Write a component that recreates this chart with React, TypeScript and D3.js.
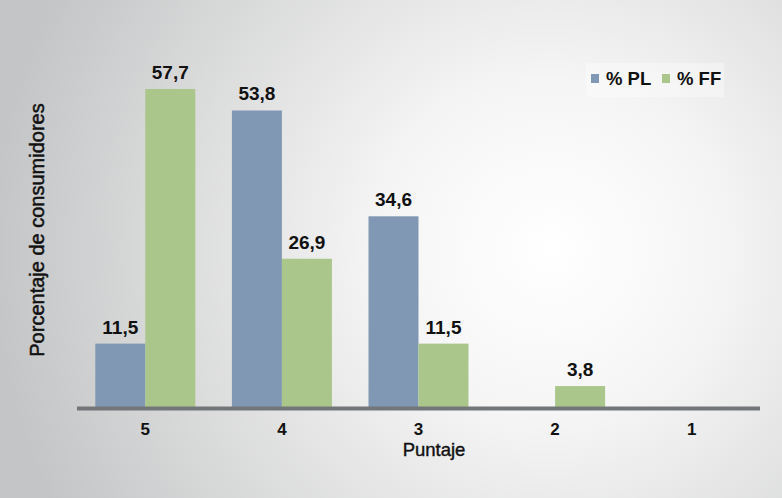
import React from "react";
import * as d3 from "d3";

const categories = ["5", "4", "3", "2", "1"];
const seriesNames = ["% PL", "% FF"];
const valuesPL = [11.5, 53.8, 34.6, null, null];
const valuesFF = [57.7, 26.9, 11.5, 3.8, null];
const seriesColors = ["#8098b4", "#aac68b"];
const xTitle = "Puntaje";
const yTitle = "Porcentaje de consumidores";

const W = 782;
const H = 498;
const FONT = "'Liberation Sans', Arial, Helvetica, sans-serif";

export default function App() {
  const x = d3.scaleBand<string>().domain(categories).range([77, 760]).padding(0);
  const baseline = 407;
  const y = d3.scaleLinear().domain([0, 57.7]).range([baseline, 89]);
  const barW = 50;
  const fmt = (v: number) => v.toFixed(1).replace(".", ",");
  const series = [valuesPL, valuesFF];

  return (
    <svg width={W} height={H} style={{ position: "absolute", left: 0, top: 0 }}>
      <defs>
        <radialGradient id="bg" gradientUnits="userSpaceOnUse" cx={550} cy={250} r={560}>
          <stop offset="0" stopColor="#ffffff" />
          <stop offset="0.3" stopColor="#f5f5f5" />
          <stop offset="1" stopColor="#c4c5c6" />
        </radialGradient>
      </defs>
      <rect x={0} y={0} width={W} height={H} fill="url(#bg)" />

      {series.map((vals, si) =>
        vals.map((v, i) => {
          if (v == null) return null;
          const cx = (x(categories[i]) as number) + x.bandwidth() / 2;
          const bx = si === 0 ? cx - barW : cx;
          return (
            <g key={`${si}-${i}`}>
              <rect x={bx} y={y(v)} width={barW} height={baseline - y(v)} fill={seriesColors[si]} />
              <text
                x={bx + barW / 2}
                y={y(v) - 10}
                textAnchor="middle"
                fontFamily={FONT}
                fontWeight="bold"
                fontSize={19}
                fill="#111"
              >
                {fmt(v)}
              </text>
            </g>
          );
        })
      )}

      <line x1={77} x2={760} y1={baseline + 1.5} y2={baseline + 1.5} stroke="#737678" strokeWidth={4} />

      {categories.map((c) => (
        <text
          key={c}
          x={(x(c) as number) + x.bandwidth() / 2}
          y={435}
          textAnchor="middle"
          fontFamily={FONT}
          fontWeight="bold"
          fontSize={17}
          fill="#111"
        >
          {c}
        </text>
      ))}

      <text x={434} y={456} textAnchor="middle" fontFamily={FONT} fontSize={18.5} fill="#111" stroke="#111" strokeWidth={0.4}>
        {xTitle}
      </text>
      <text
        transform={`translate(44,230) rotate(-90)`}
        textAnchor="middle"
        fontFamily={FONT}
        fontSize={20}
        fill="#111"
        stroke="#111"
        strokeWidth={0.5}
      >
        {yTitle}
      </text>

      <rect x={586} y={63} width={138} height={34} fill="#ffffff" opacity={0.35} />
      {seriesNames.map((n, i) => {
        const lx = i === 0 ? 591 : 662;
        return (
          <g key={n}>
            <rect x={lx} y={74} width={8} height={9} fill={seriesColors[i]} />
            <text x={lx + 15} y={85} fontFamily={FONT} fontWeight="bold" fontSize={18.5} fill="#111">
              {n}
            </text>
          </g>
        );
      })}
    </svg>
  );
}
